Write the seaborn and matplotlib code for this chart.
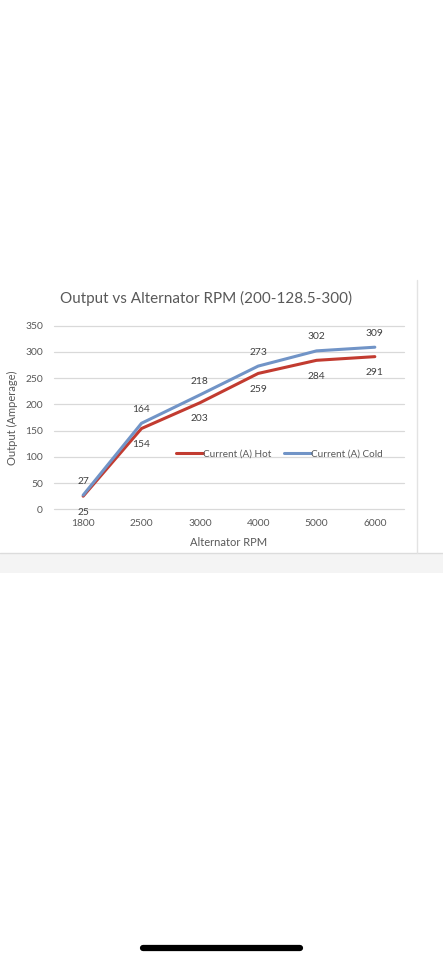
import pandas as pd
import matplotlib
matplotlib.use("Agg")
import matplotlib.pyplot as plt
import seaborn as sns

# data
rpm = ["1800", "2500", "3000", "4000", "5000", "6000"]
hot = [25, 154, 203, 259, 284, 291]
cold = [27, 164, 218, 273, 302, 309]
series_names = ["Current (A) Hot", "Current (A) Cold"]
y_ticks = [0, 50, 100, 150, 200, 250, 300, 350]

df = pd.DataFrame({
    "rpm": rpm * 2,
    "amps": hot + cold,
    "series": [series_names[0]] * len(rpm) + [series_names[1]] * len(rpm),
})

sns.set_style("white")
plt.rcParams["font.family"] = ["Lato", "DejaVu Sans"]

W, H = 443, 960
fig = plt.figure(figsize=(W / 100, H / 100), dpi=100)

# screenshot decorations (pixel coords)
bg = fig.add_axes([0, 0, 1, 1], zorder=0)
bg.set_xlim(0, W)
bg.set_ylim(H, 0)
bg.axis("off")
bg.fill_between([0, W], 553, 573, color="#f4f4f4", lw=0)
bg.plot([0, W], [553, 553], color="#dcdcdc", lw=1)
bg.plot([417.5, 417.5], [280, 553], color="#e3e3e3", lw=1)
bg.plot([143, 300], [947.5, 947.5], color="black", lw=4.5, solid_capstyle="round")

left, right = 54, 404
top, bottom = 325.7, 509.3
ax = fig.add_axes([left / W, 1 - bottom / H, (right - left) / W, (bottom - top) / H], zorder=1)
ax.patch.set_alpha(0)

palette = {series_names[0]: "#c23b30", series_names[1]: "#7194c7"}
sns.lineplot(data=df, x="rpm", y="amps", hue="series", palette=palette,
             lw=2.2, sort=False, ax=ax)

ax.set_xlim(-0.5, len(rpm) - 0.5)
ax.set_ylim(0, 350)
ax.set_yticks(y_ticks)
ax.grid(axis="y", color="#d9d9d9", lw=0.9)
ax.set_axisbelow(True)
for gl in ax.get_ygridlines():
    gl.set_clip_on(False)
for s in ax.spines.values():
    s.set_visible(False)
ax.tick_params(length=0, labelsize=7.4, labelcolor="#595959")
ax.tick_params(axis="x", pad=7.2)
ax.tick_params(axis="y", pad=8)

ax.set_xlabel("Alternator RPM", fontsize=8, color="#595959", labelpad=6)
ax.set_ylabel("Output (Amperage)", fontsize=8, color="#595959")
ax.yaxis.set_label_coords(-0.103, 0.5)

for i, v in enumerate(cold):
    ax.annotate(str(v), (i, v), xytext=(0, 10), textcoords="offset points",
                ha="center", va="center", fontsize=7.4, color="#404040")
for i, v in enumerate(hot):
    ax.annotate(str(v), (i, v), xytext=(0, -11.5), textcoords="offset points",
                ha="center", va="center", fontsize=7.4, color="#404040")

ax.legend(loc="center", bbox_to_anchor=(0.644, 0.303), ncol=2, frameon=False,
          fontsize=7.2, handlelength=2.7, handletextpad=0.0, columnspacing=1.3,
          labelcolor="#595959")

fig.text(206 / W, 1 - 298.3 / H, "Output vs Alternator RPM (200-128.5-300)",
         ha="center", va="center", fontsize=11, color="#595959")

fig.savefig("out.png", dpi=100, facecolor="white")
